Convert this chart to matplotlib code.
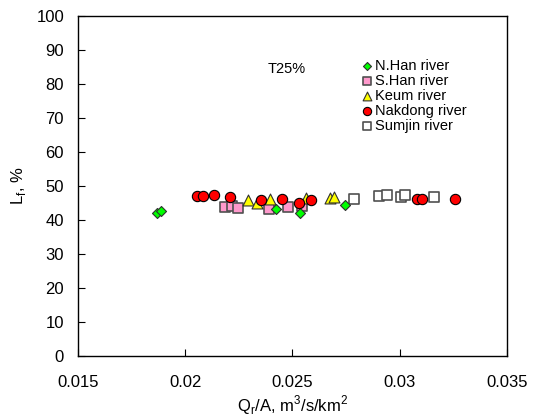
import matplotlib
matplotlib.use("Agg")
import matplotlib.pyplot as plt

plt.rcParams['font.family'] = ['Liberation Sans', 'DejaVu Sans']

nhan_x = [0.01866, 0.01889, 0.02424, 0.02533, 0.02743]
nhan_y = [42.1, 42.6, 43.1, 42.1, 44.4]

shan_x = [0.02184, 0.0222, 0.02246, 0.02392, 0.02481, 0.02543]
shan_y = [43.9, 44.2, 43.4, 43.1, 43.9, 44.2]

keum_x = [0.02294, 0.02334, 0.02393, 0.02564, 0.02673, 0.02695]
keum_y = [45.9, 45.1, 46.1, 46.6, 46.6, 46.9]

nak_x = [0.02055, 0.02083, 0.02133, 0.0221, 0.02354, 0.02449, 0.02531, 0.02585, 0.0308, 0.03103, 0.03258]
nak_y = [47.06, 47.1, 47.35, 46.9, 45.8, 46.3, 44.9, 45.8, 46.3, 46.3, 46.3]

sum_x = [0.02788, 0.02901, 0.0294, 0.03006, 0.03024, 0.0316]
sum_y = [46.1, 47.1, 47.4, 46.9, 47.4, 46.9]

fig = plt.figure(figsize=(5.4, 4.18), dpi=100)
ax = fig.add_axes([78/540, 1 - 356/418, (507-78)/540, (356-16)/418])

ax.scatter(shan_x, shan_y, marker='s', s=48, facecolor='#FF99CC', edgecolor='#505050', linewidth=1.2, label='S.Han river', zorder=3)
ax.scatter(sum_x, sum_y, marker='s', s=48, facecolor='white', edgecolor='#505050', linewidth=1.2, label='Sumjin river', zorder=3)
ax.scatter(nhan_x, nhan_y, marker='D', s=26, facecolor='#00FF00', edgecolor='#303030', linewidth=0.8, label='N.Han river', zorder=4)
ax.scatter(keum_x, keum_y, marker='^', s=62, facecolor='#FFFF00', edgecolor='#303030', linewidth=0.8, label='Keum river', zorder=4)
ax.scatter(nak_x, nak_y, marker='o', s=55, facecolor='#FF0000', edgecolor='black', linewidth=0.8, label='Nakdong river', zorder=5)

ax.set_xlim(0.015, 0.035)
ax.set_ylim(0, 100)
ax.set_xticks([0.015, 0.02, 0.025, 0.03, 0.035])
ax.set_xticklabels(['0.015', '0.02', '0.025', '0.03', '0.035'])
ax.set_yticks(range(0, 101, 10))
ax.tick_params(direction='in', length=5, labelsize=12, color='black')
ax.tick_params(axis='x', pad=14)
ax.tick_params(axis='y', pad=10)
for sp in ax.spines.values():
    sp.set_linewidth(1.0)

ax.set_xlabel(r'Q$_\mathregular{r}$/A, m$^\mathregular{3}$/s/km$^\mathregular{2}$', fontsize=12, labelpad=2)
ax.set_ylabel(r'L$_\mathregular{f}$, %', fontsize=12, labelpad=6)

ax.text(0.02384, 83.2, 'T25%', fontsize=10.5)

handles, labels = ax.get_legend_handles_labels()
order = ['N.Han river', 'S.Han river', 'Keum river', 'Nakdong river', 'Sumjin river']
hmap = dict(zip(labels, handles))
leg = ax.legend([hmap[k] for k in order], order, loc='upper left', bbox_to_anchor=(0.632, 0.905),
                frameon=False, fontsize=10.5, handletextpad=0.05, labelspacing=0.08,
                markerscale=0.8, borderpad=0.2, handlelength=1.0)

fig.savefig('out.png', dpi=100)
